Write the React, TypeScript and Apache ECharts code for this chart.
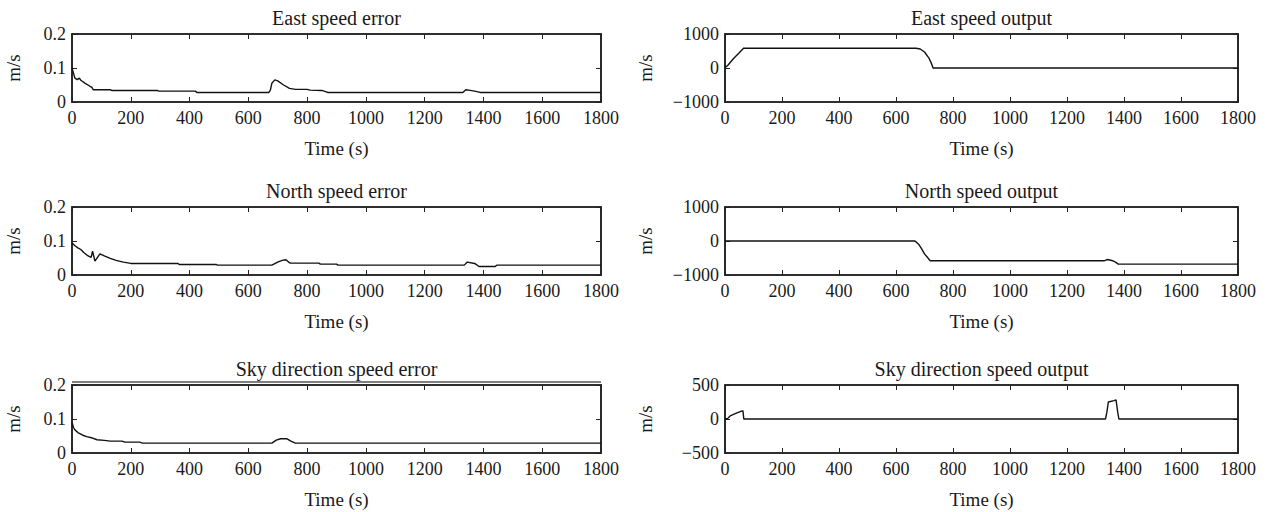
import React, { useEffect, useRef } from "react";
import * as echarts from "echarts";

// ---- data (time in s, value) ----
const eastSpeedError: [number, number][] = [
  [0, 0.1], [5, 0.085], [10, 0.07], [18, 0.066], [25, 0.07], [30, 0.064], [45, 0.055], [60, 0.047],
  [68, 0.043], [72, 0.036], [130, 0.036], [135, 0.034], [290, 0.034], [295, 0.032], [420, 0.032],
  [425, 0.028], [670, 0.028], [675, 0.035], [680, 0.055], [690, 0.065], [700, 0.062], [720, 0.05],
  [740, 0.04], [760, 0.037], [800, 0.037], [810, 0.035], [850, 0.034], [865, 0.03], [870, 0.028],
  [1330, 0.028], [1340, 0.036], [1350, 0.035], [1370, 0.032], [1385, 0.029], [1390, 0.028], [1800, 0.028],
];
const eastSpeedOutput: [number, number][] = [
  [0, 10], [10, 80], [30, 280], [50, 450], [65, 580], [670, 580], [685, 560], [700, 470],
  [715, 300], [725, 120], [730, 0], [1800, 0],
];
const northSpeedError: [number, number][] = [
  [0, 0.094], [10, 0.086], [20, 0.08], [30, 0.075], [40, 0.066], [55, 0.056], [65, 0.052],
  [70, 0.07], [78, 0.041], [95, 0.062], [110, 0.056], [130, 0.049], [150, 0.043], [175, 0.038],
  [195, 0.035], [200, 0.034], [360, 0.034], [365, 0.031], [490, 0.031], [495, 0.029], [680, 0.029],
  [700, 0.038], [715, 0.043], [728, 0.045], [740, 0.036], [745, 0.035], [840, 0.035], [845, 0.032],
  [900, 0.032], [905, 0.029], [1335, 0.029], [1345, 0.038], [1370, 0.034], [1385, 0.025],
  [1440, 0.025], [1445, 0.029], [1800, 0.029],
];
const northSpeedOutput: [number, number][] = [
  [0, 0], [665, 0], [670, -20], [680, -100], [690, -230], [700, -380], [710, -480], [720, -580],
  [1330, -580], [1335, -570], [1340, -545], [1350, -560], [1360, -580], [1370, -620], [1380, -680],
  [1800, -680],
];
const skySpeedError: [number, number][] = [
  [0, 0.09], [5, 0.075], [10, 0.068], [20, 0.06], [35, 0.053], [50, 0.048], [70, 0.044],
  [85, 0.039], [110, 0.037], [130, 0.035], [170, 0.035], [180, 0.032], [230, 0.032], [240, 0.029],
  [680, 0.029], [695, 0.038], [710, 0.042], [730, 0.042], [745, 0.035], [760, 0.029], [1800, 0.029],
];
const skySpeedOutput: [number, number][] = [
  [0, 0], [10, 10], [20, 50], [40, 85], [60, 120], [63, 120], [66, 0], [1335, 0], [1340, 100],
  [1345, 250], [1365, 270], [1372, 280], [1378, 100], [1382, 0], [1800, 0],
];

const titles = [
  "East speed error", "East speed output",
  "North speed error", "North speed output",
  "Sky direction speed error", "Sky direction speed output",
];
const seriesData = [
  eastSpeedError, eastSpeedOutput,
  northSpeedError, northSpeedOutput,
  skySpeedError, skySpeedOutput,
];
const yRanges: [number, number, number][] = [
  [0, 0.2, 0.1], [-1000, 1000, 1000],
  [0, 0.2, 0.1], [-1000, 1000, 1000],
  [0, 0.2, 0.1], [-500, 500, 500],
];
const timeRange: [number, number, number] = [0, 1800, 200];
const yName = "m/s";
const xName = "Time (s)";

// ---- layout ----
const FONT = "Liberation Serif";
const rowTops = [34, 207, 385];
const plotH = 68;
const cols = [
  { left: 72, width: 529, nameGap: 49 },
  { left: 725, width: 513, nameGap: 70 },
];

export default function App() {
  const ref = useRef<HTMLDivElement>(null);
  useEffect(() => {
    document.body.style.margin = "0";
    if (!ref.current) return;
    const chart = echarts.init(ref.current, undefined, { renderer: "svg" });
    const grids: any[] = [];
    const xAxes: any[] = [];
    const yAxes: any[] = [];
    const series: any[] = [];
    const graphics: any[] = [];
    const axisColor = "#222";
    const labelStyle = { fontFamily: FONT, fontSize: 18, color: "#1a1a1a" };
    for (let i = 0; i < 6; i++) {
      const r = Math.floor(i / 2);
      const c = cols[i % 2];
      const top = rowTops[r];
      grids.push({
        left: c.left, top, width: c.width, height: plotH,
        show: true, borderColor: axisColor, borderWidth: 1.6,
      });
      const [ymin, ymax, yint] = yRanges[i];
      const fmt = (v: number) => String(v).replace("-", "\u2212");
      xAxes.push({
        type: "value", gridIndex: i, min: timeRange[0], max: timeRange[1], interval: timeRange[2],
        position: "bottom",
        axisLine: { show: true, onZero: false, lineStyle: { color: axisColor, width: 1.6 } },
        axisTick: { show: true, inside: true, length: 5, lineStyle: { color: axisColor } },
        axisLabel: { ...labelStyle, margin: 7, formatter: fmt },
        splitLine: { show: false },
        name: xName, nameLocation: "middle", nameGap: 37,
        nameTextStyle: { fontFamily: FONT, fontSize: 19, color: "#1a1a1a" },
      });
      xAxes.push({
        type: "value", gridIndex: i, min: timeRange[0], max: timeRange[1], interval: timeRange[2],
        position: "top",
        axisLine: { show: true, onZero: false, lineStyle: { color: axisColor, width: 1.6 } },
        axisTick: { show: true, inside: true, length: 5, lineStyle: { color: axisColor } },
        axisLabel: { show: false },
        splitLine: { show: false },
      });
      yAxes.push({
        type: "value", gridIndex: i, min: ymin, max: ymax, interval: yint, position: "left",
        axisLine: { show: true, onZero: false, lineStyle: { color: axisColor, width: 1.6 } },
        axisTick: { show: true, inside: true, length: 5, lineStyle: { color: axisColor } },
        axisLabel: { ...labelStyle, margin: 6, formatter: fmt },
        splitLine: { show: false },
        name: yName, nameLocation: "middle", nameGap: c.nameGap, nameRotate: 90,
        nameTextStyle: { fontFamily: FONT, fontSize: 19, color: "#1a1a1a" },
      });
      yAxes.push({
        type: "value", gridIndex: i, min: ymin, max: ymax, interval: yint, position: "right",
        axisLine: { show: true, onZero: false, lineStyle: { color: axisColor, width: 1.6 } },
        axisTick: { show: true, inside: true, length: 5, lineStyle: { color: axisColor } },
        axisLabel: { show: false },
        splitLine: { show: false },
      });
      series.push({
        type: "line", xAxisIndex: 2 * i, yAxisIndex: 2 * i, data: seriesData[i],
        showSymbol: false, symbol: "none",
        lineStyle: { color: "#111", width: 1.4 },
      });
      graphics.push({
        type: "text", x: c.left + c.width / 2, y: top - 16,
        style: {
          text: titles[i], fontFamily: FONT, fontSize: 20, fill: "#1a1a1a",
          textAlign: "center", textVerticalAlign: "middle",
        },
      });
    }
    // doubled top border in the "Sky direction speed error" panel
    graphics.push({
      type: "line",
      shape: { x1: cols[0].left, y1: rowTops[2] - 3, x2: cols[0].left + cols[0].width, y2: rowTops[2] - 3 },
      style: { stroke: "#555", lineWidth: 1.5 },
    });
    chart.setOption({
      animation: false,
      backgroundColor: "#ffffff",
      grid: grids,
      xAxis: xAxes,
      yAxis: yAxes,
      series,
      graphic: graphics,
    });
    return () => chart.dispose();
  }, []);
  return <div ref={ref} style={{ width: 1267, height: 512 }} />;
}
